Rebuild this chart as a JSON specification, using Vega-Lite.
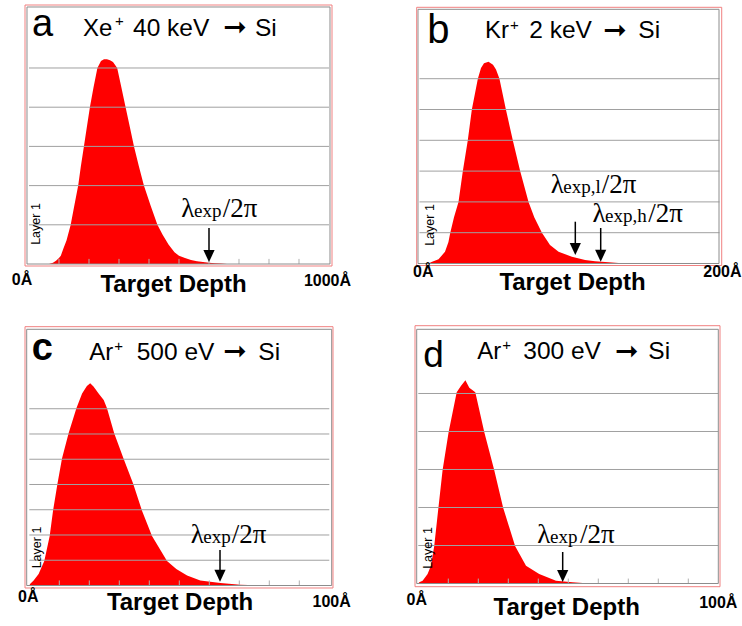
{
  "$schema": "https://vega.github.io/schema/vega-lite/v6.json",
  "autosize": {"type": "none"},
  "padding": {"left": 25, "top": 5, "right": 717, "bottom": 621},
  "background": "white",
  "config": {
    "view": {"stroke": null},
    "axis": {"disable": true},
    "text": {"font": "Liberation Sans", "color": "#000000", "baseline": "alphabetic", "align": "left"}
  },
  "columns": 2,
  "spacing": {"row": 60, "column": 84},
  "bounds": "flush",
  "datasets": {
    "hist_a": [
      {"depth": 67, "count": 0}, {"depth": 80, "count": 0.03}, {"depth": 90, "count": 0.08}, {"depth": 100, "count": 0.15},
      {"depth": 106, "count": 0.21}, {"depth": 115, "count": 0.4}, {"depth": 125, "count": 0.6}, {"depth": 139, "count": 1.0},
      {"depth": 150, "count": 1.45}, {"depth": 164, "count": 2.0}, {"depth": 173, "count": 2.5}, {"depth": 183, "count": 3.0},
      {"depth": 193, "count": 3.5}, {"depth": 203, "count": 4.0}, {"depth": 215, "count": 4.5}, {"depth": 228, "count": 5.0},
      {"depth": 240, "count": 5.18}, {"depth": 250, "count": 5.22}, {"depth": 260, "count": 5.22}, {"depth": 270, "count": 5.2},
      {"depth": 280, "count": 5.15}, {"depth": 294, "count": 5.0}, {"depth": 308, "count": 4.5}, {"depth": 322, "count": 4.0},
      {"depth": 336, "count": 3.5}, {"depth": 350, "count": 3.0}, {"depth": 366, "count": 2.5}, {"depth": 383, "count": 2.0},
      {"depth": 405, "count": 1.5}, {"depth": 428, "count": 1.0}, {"depth": 445, "count": 0.75}, {"depth": 465, "count": 0.5},
      {"depth": 485, "count": 0.3}, {"depth": 500, "count": 0.21}, {"depth": 520, "count": 0.15}, {"depth": 540, "count": 0.1},
      {"depth": 560, "count": 0.07}, {"depth": 580, "count": 0.05}, {"depth": 600, "count": 0.03}, {"depth": 620, "count": 0.02},
      {"depth": 640, "count": 0.01}, {"depth": 660, "count": 0}
    ],
    "hist_b": [
      {"depth": 6, "count": 0}, {"depth": 8, "count": 0.05}, {"depth": 12.7, "count": 0.14}, {"depth": 17, "count": 0.38},
      {"depth": 19.3, "count": 0.7}, {"depth": 20.4, "count": 0.97}, {"depth": 23, "count": 1.5}, {"depth": 26, "count": 2.0},
      {"depth": 28.9, "count": 3.0}, {"depth": 32.2, "count": 4.0}, {"depth": 34.9, "count": 5.0}, {"depth": 38.9, "count": 6.0},
      {"depth": 41, "count": 6.35}, {"depth": 43, "count": 6.5}, {"depth": 46, "count": 6.55}, {"depth": 49, "count": 6.45},
      {"depth": 51, "count": 6.3}, {"depth": 53.3, "count": 6.0}, {"depth": 57.6, "count": 5.0}, {"depth": 62.2, "count": 4.0},
      {"depth": 67.1, "count": 3.0}, {"depth": 72.7, "count": 2.0}, {"depth": 76.5, "count": 1.5}, {"depth": 81.6, "count": 1.0},
      {"depth": 87, "count": 0.6}, {"depth": 92.7, "count": 0.38}, {"depth": 101.6, "count": 0.22}, {"depth": 110.4, "count": 0.11},
      {"depth": 117, "count": 0.07}, {"depth": 123.8, "count": 0.05}, {"depth": 132.7, "count": 0.02}, {"depth": 144, "count": 0.01},
      {"depth": 150, "count": 0}
    ],
    "hist_c": [
      {"depth": 0, "count": 0}, {"depth": 0.33, "count": 0.07}, {"depth": 1.44, "count": 0.2}, {"depth": 3.1, "count": 0.46},
      {"depth": 5.0, "count": 0.97}, {"depth": 6.8, "count": 1.96}, {"depth": 7.9, "count": 2.95}, {"depth": 9.4, "count": 4.04},
      {"depth": 10.9, "count": 5.03}, {"depth": 13.1, "count": 6.03}, {"depth": 15.7, "count": 7.02}, {"depth": 17.6, "count": 7.6},
      {"depth": 19.2, "count": 7.9}, {"depth": 20.3, "count": 8.01}, {"depth": 21.4, "count": 7.88}, {"depth": 23.1, "count": 7.6},
      {"depth": 24.8, "count": 7.35}, {"depth": 25.9, "count": 7.02}, {"depth": 28.3, "count": 6.03}, {"depth": 31.4, "count": 5.03},
      {"depth": 34.6, "count": 4.04}, {"depth": 37.6, "count": 2.95}, {"depth": 40.9, "count": 1.96}, {"depth": 45.9, "count": 0.97},
      {"depth": 49, "count": 0.65}, {"depth": 52.6, "count": 0.4}, {"depth": 57, "count": 0.2}, {"depth": 63.7, "count": 0.1},
      {"depth": 70.3, "count": 0.03}, {"depth": 77, "count": 0.01}, {"depth": 85, "count": 0}
    ],
    "hist_d": [
      {"depth": 0, "count": 0}, {"depth": 0.33, "count": 0.03}, {"depth": 1.44, "count": 0.07}, {"depth": 3.1, "count": 0.25},
      {"depth": 4.2, "count": 0.47}, {"depth": 5.3, "count": 0.98}, {"depth": 6.7, "count": 1.99}, {"depth": 8.1, "count": 2.99},
      {"depth": 10.1, "count": 3.98}, {"depth": 12.8, "count": 5.03}, {"depth": 14.2, "count": 5.2}, {"depth": 15.7, "count": 5.35},
      {"depth": 17, "count": 5.15}, {"depth": 19, "count": 5.03}, {"depth": 22, "count": 3.98}, {"depth": 25.3, "count": 2.99},
      {"depth": 28.3, "count": 1.99}, {"depth": 32.3, "count": 0.98}, {"depth": 35.9, "count": 0.47}, {"depth": 40.3, "count": 0.25},
      {"depth": 45.9, "count": 0.07}, {"depth": 51.4, "count": 0.03}, {"depth": 57, "count": 0}
    ]
  },
  "concat": [
    {
      "width": 307, "height": 261,
      "data": {"values": [{}]},
      "layer": [
        {"data": {"name": "hist_a"}, "mark": {"type": "area", "color": "#ff0000", "interpolate": "linear"},
         "encoding": {"x": {"field": "depth", "type": "quantitative", "scale": {"domain": [-13.33, 1010], "nice": false, "zero": false}},
                      "y": {"field": "count", "type": "quantitative", "stack": null, "scale": {"domain": [-0.051, 6.607], "nice": false, "zero": false}}}},
        {"data": {"values": [{"g": 1}, {"g": 2}, {"g": 3}, {"g": 4}, {"g": 5}]}, "mark": {"type": "rule", "color": "#a0a0a0", "strokeWidth": 1},
         "encoding": {"x": {"datum": 0}, "x2": {"datum": 1000}, "y": {"field": "g", "type": "quantitative"}}},
        {"data": {"values": [{"t": 100}, {"t": 200}, {"t": 300}, {"t": 400}, {"t": 500}, {"t": 600}, {"t": 700}, {"t": 800}, {"t": 900}]}, "mark": {"type": "rule", "color": "#b0b0b0", "strokeWidth": 1},
         "encoding": {"x": {"field": "t", "type": "quantitative"}, "y": {"datum": 0}, "y2": {"datum": 0.13}}},
        {"mark": {"type": "rect", "filled": false, "stroke": "#8c8c8c", "strokeWidth": 1},
         "encoding": {"x": {"datum": -6.67}, "x2": {"datum": 1003.3}, "y": {"datum": 0}, "y2": {"datum": 6.556}}},
        {"mark": {"type": "rect", "filled": false, "stroke": "#f08080", "strokeWidth": 1},
         "encoding": {"x": {"datum": -13.33}, "x2": {"datum": 1010}, "y": {"datum": -0.051}, "y2": {"datum": 6.607}}},
        {"mark": {"type": "text", "text": "a", "fontSize": 38}, "encoding": {"x": {"datum": 10}, "y": {"datum": 5.816}}},
        {"mark": {"type": "text", "text": "Xe", "fontSize": 24}, "encoding": {"x": {"datum": 180}, "y": {"datum": 5.824}}},
        {"mark": {"type": "text", "text": "+", "fontSize": 15}, "encoding": {"x": {"datum": 286.7}, "y": {"datum": 6.071}}},
        {"mark": {"type": "text", "text": "40 keV", "fontSize": 24.5}, "encoding": {"x": {"datum": 346.7}, "y": {"datum": 5.824}}},
        {"mark": {"type": "text", "text": "➞", "font": "DejaVu Sans", "fontSize": 28, "align": "center", "baseline": "middle"}, "encoding": {"x": {"datum": 686.7}, "y": {"datum": 6.013}}},
        {"mark": {"type": "text", "text": "Si", "fontSize": 24.5}, "encoding": {"x": {"datum": 753.3}, "y": {"datum": 5.824}}},
        {"mark": {"type": "text", "text": "λ", "font": "Liberation Serif", "fontSize": 27, "align": "right"}, "encoding": {"x": {"datum": 551}, "y": {"datum": 1.199}}},
        {"mark": {"type": "text", "text": "exp", "font": "Liberation Serif", "fontSize": 19}, "encoding": {"x": {"datum": 550}, "y": {"datum": 1.199}}},
        {"mark": {"type": "text", "text": "/2π", "font": "Liberation Serif", "fontSize": 27}, "encoding": {"x": {"datum": 645.7}, "y": {"datum": 1.199}}},
        {"mark": {"type": "rule", "color": "#000000", "strokeWidth": 1.5}, "encoding": {"x": {"datum": 600}, "y": {"datum": 0.918}, "y2": {"datum": 0.25}}},
        {"mark": {"type": "point", "shape": "M-0.8,-1.7L0.8,-1.7L0,0Z", "filled": true, "color": "#000000", "size": 196, "opacity": 1}, "encoding": {"x": {"datum": 600}, "y": {"datum": 0.051}}},
        {"mark": {"type": "text", "text": "Layer  1", "fontSize": 12.5, "angle": 270, "align": "center", "baseline": "middle"}, "encoding": {"x": {"datum": 25}, "y": {"datum": 1.02}}},
        {"mark": {"type": "text", "text": "0Å", "fontSize": 16, "fontWeight": "bold", "align": "center"}, "encoding": {"x": {"datum": -23.3}, "y": {"datum": -0.536}}},
        {"mark": {"type": "text", "text": "1000Å", "fontSize": 16, "fontWeight": "bold", "align": "center"}, "encoding": {"x": {"datum": 995}, "y": {"datum": -0.561}}},
        {"mark": {"type": "text", "text": "Target Depth", "fontSize": 24, "fontWeight": "bold", "align": "center"}, "encoding": {"x": {"datum": 481.7}, "y": {"datum": -0.714}}}
      ]
    },
    {
      "width": 307, "height": 261,
      "data": {"values": [{}]},
      "layer": [
        {"data": {"name": "hist_b"}, "mark": {"type": "area", "color": "#ff0000", "interpolate": "linear"},
         "encoding": {"x": {"field": "depth", "type": "quantitative", "scale": {"domain": [-2.333, 202.333], "nice": false, "zero": false}},
                      "y": {"field": "count", "type": "quantitative", "stack": null, "scale": {"domain": [-0.0812, 8.393], "nice": false, "zero": false}}}},
        {"data": {"values": [{"g": 1}, {"g": 2}, {"g": 3}, {"g": 4}, {"g": 5}, {"g": 6}]}, "mark": {"type": "rule", "color": "#a0a0a0", "strokeWidth": 1},
         "encoding": {"x": {"datum": 0}, "x2": {"datum": 200}, "y": {"field": "g", "type": "quantitative"}}},
        {"mark": {"type": "rect", "filled": false, "stroke": "#8c8c8c", "strokeWidth": 1},
         "encoding": {"x": {"datum": -1}, "x2": {"datum": 199.67}, "y": {"datum": 0}, "y2": {"datum": 8.253}}},
        {"mark": {"type": "rect", "filled": false, "stroke": "#f08080", "strokeWidth": 1},
         "encoding": {"x": {"datum": -1.867}, "x2": {"datum": 201.47}, "y": {"datum": -0.065}, "y2": {"datum": 8.318}}},
        {"mark": {"type": "text", "text": "b", "fontSize": 40}, "encoding": {"x": {"datum": 5.2}, "y": {"datum": 7.149}}},
        {"mark": {"type": "text", "text": "Kr", "fontSize": 24}, "encoding": {"x": {"datum": 43.67}, "y": {"datum": 7.312}}},
        {"mark": {"type": "text", "text": "+", "fontSize": 15}, "encoding": {"x": {"datum": 60.33}, "y": {"datum": 7.597}}},
        {"mark": {"type": "text", "text": "2 keV", "fontSize": 24.5}, "encoding": {"x": {"datum": 73.2}, "y": {"datum": 7.312}}},
        {"mark": {"type": "text", "text": "➞", "font": "DejaVu Sans", "fontSize": 28, "align": "center", "baseline": "middle"}, "encoding": {"x": {"datum": 130.3}, "y": {"datum": 7.555}}},
        {"mark": {"type": "text", "text": "Si", "fontSize": 24.5}, "encoding": {"x": {"datum": 145.9}, "y": {"datum": 7.312}}},
        {"mark": {"type": "text", "text": "λ", "font": "Liberation Serif", "fontSize": 27, "align": "right"}, "encoding": {"x": {"datum": 96.2}, "y": {"datum": 2.279}}},
        {"mark": {"type": "text", "text": "exp,l", "font": "Liberation Serif", "fontSize": 19}, "encoding": {"x": {"datum": 95.87}, "y": {"datum": 2.279}}},
        {"mark": {"type": "text", "text": "/2π", "font": "Liberation Serif", "fontSize": 27}, "encoding": {"x": {"datum": 121.47}, "y": {"datum": 2.279}}},
        {"mark": {"type": "text", "text": "λ", "font": "Liberation Serif", "fontSize": 27, "align": "right"}, "encoding": {"x": {"datum": 124}, "y": {"datum": 1.357}}},
        {"mark": {"type": "text", "text": "exp,h", "font": "Liberation Serif", "fontSize": 19}, "encoding": {"x": {"datum": 123.67}, "y": {"datum": 1.357}}},
        {"mark": {"type": "text", "text": "/2π", "font": "Liberation Serif", "fontSize": 27}, "encoding": {"x": {"datum": 152.53}, "y": {"datum": 1.357}}},
        {"mark": {"type": "rule", "color": "#000000", "strokeWidth": 1.5}, "encoding": {"x": {"datum": 103.87}, "y": {"datum": 1.357}, "y2": {"datum": 0.6}}},
        {"mark": {"type": "point", "shape": "M-0.8,-1.7L0.8,-1.7L0,0Z", "filled": true, "color": "#000000", "size": 196, "opacity": 1}, "encoding": {"x": {"datum": 103.87}, "y": {"datum": 0.276}}},
        {"mark": {"type": "rule", "color": "#000000", "strokeWidth": 1.5}, "encoding": {"x": {"datum": 120.8}, "y": {"datum": 1.153}, "y2": {"datum": 0.4}}},
        {"mark": {"type": "point", "shape": "M-0.8,-1.7L0.8,-1.7L0,0Z", "filled": true, "color": "#000000", "size": 196, "opacity": 1}, "encoding": {"x": {"datum": 120.8}, "y": {"datum": 0.058}}},
        {"mark": {"type": "text", "text": "Layer  1", "fontSize": 12.5, "angle": 270, "align": "center", "baseline": "middle"}, "encoding": {"x": {"datum": 7}, "y": {"datum": 1.25}}},
        {"mark": {"type": "text", "text": "0Å", "fontSize": 16, "fontWeight": "bold", "align": "center"}, "encoding": {"x": {"datum": 2.53}, "y": {"datum": -0.438}}},
        {"mark": {"type": "text", "text": "200Å", "fontSize": 16, "fontWeight": "bold", "align": "left"}, "encoding": {"x": {"datum": 189.2}, "y": {"datum": -0.438}}},
        {"mark": {"type": "text", "text": "Target Depth", "fontSize": 24, "fontWeight": "bold", "align": "center"}, "encoding": {"x": {"datum": 102}, "y": {"datum": -0.86}}}
      ]
    },
    {
      "width": 307, "height": 261,
      "data": {"values": [{}]},
      "layer": [
        {"data": {"name": "hist_c"}, "mark": {"type": "area", "color": "#ff0000", "interpolate": "linear"},
         "encoding": {"x": {"field": "depth", "type": "quantitative", "scale": {"domain": [-1.433, 100.9], "nice": false, "zero": false}},
                      "y": {"field": "count", "type": "quantitative", "stack": null, "scale": {"domain": [-0.0594, 10.277], "nice": false, "zero": false}}}},
        {"data": {"values": [{"g": 1}, {"g": 2}, {"g": 3}, {"g": 4}, {"g": 5}, {"g": 6}, {"g": 7}]}, "mark": {"type": "rule", "color": "#a0a0a0", "strokeWidth": 1},
         "encoding": {"x": {"datum": 0}, "x2": {"datum": 100}, "y": {"field": "g", "type": "quantitative"}}},
        {"data": {"values": [{"t": 10}, {"t": 20}, {"t": 30}, {"t": 40}, {"t": 50}, {"t": 60}, {"t": 70}, {"t": 80}, {"t": 90}]}, "mark": {"type": "rule", "color": "#b0b0b0", "strokeWidth": 1},
         "encoding": {"x": {"field": "t", "type": "quantitative"}, "y": {"datum": 0}, "y2": {"datum": 0.2}}},
        {"mark": {"type": "rect", "filled": false, "stroke": "#8c8c8c", "strokeWidth": 1},
         "encoding": {"x": {"datum": -0.867}, "x2": {"datum": 100.8}, "y": {"datum": 0}, "y2": {"datum": 10.147}}},
        {"mark": {"type": "rect", "filled": false, "stroke": "#f08080", "strokeWidth": 1},
         "encoding": {"x": {"datum": -1.433}, "x2": {"datum": 101.23}, "y": {"datum": -0.099}, "y2": {"datum": 10.25}}},
        {"mark": {"type": "text", "text": "c", "fontSize": 38, "fontWeight": "bold"}, "encoding": {"x": {"datum": 0.8}, "y": {"datum": 8.93}}},
        {"mark": {"type": "text", "text": "Ar", "fontSize": 24}, "encoding": {"x": {"datum": 20}, "y": {"datum": 8.93}}},
        {"mark": {"type": "text", "text": "+", "fontSize": 15}, "encoding": {"x": {"datum": 28.3}, "y": {"datum": 9.287}}},
        {"mark": {"type": "text", "text": "500 eV", "fontSize": 24.5}, "encoding": {"x": {"datum": 35.8}, "y": {"datum": 8.93}}},
        {"mark": {"type": "text", "text": "➞", "font": "DejaVu Sans", "fontSize": 28, "align": "center", "baseline": "middle"}, "encoding": {"x": {"datum": 68.57}, "y": {"datum": 9.228}}},
        {"mark": {"type": "text", "text": "Si", "fontSize": 24.5}, "encoding": {"x": {"datum": 76.33}, "y": {"datum": 8.93}}},
        {"mark": {"type": "text", "text": "λ", "font": "Liberation Serif", "fontSize": 27, "align": "right"}, "encoding": {"x": {"datum": 58.15}, "y": {"datum": 1.695}}},
        {"mark": {"type": "text", "text": "exp", "font": "Liberation Serif", "fontSize": 19}, "encoding": {"x": {"datum": 58}, "y": {"datum": 1.695}}},
        {"mark": {"type": "text", "text": "/2π", "font": "Liberation Serif", "fontSize": 27}, "encoding": {"x": {"datum": 67.47}, "y": {"datum": 1.695}}},
        {"mark": {"type": "rule", "color": "#000000", "strokeWidth": 1.5}, "encoding": {"x": {"datum": 63.57}, "y": {"datum": 1.406}, "y2": {"datum": 0.6}}},
        {"mark": {"type": "point", "shape": "M-0.8,-1.7L0.8,-1.7L0,0Z", "filled": true, "color": "#000000", "size": 196, "opacity": 1}, "encoding": {"x": {"datum": 63.57}, "y": {"datum": 0.15}}},
        {"mark": {"type": "text", "text": "Layer  1", "fontSize": 12.5, "angle": 270, "align": "center", "baseline": "middle"}, "encoding": {"x": {"datum": 2.73}, "y": {"datum": 1.505}}},
        {"mark": {"type": "text", "text": "0Å", "fontSize": 16, "fontWeight": "bold", "align": "center"}, "encoding": {"x": {"datum": -0.33}, "y": {"datum": -0.642}}},
        {"mark": {"type": "text", "text": "100Å", "fontSize": 16, "fontWeight": "bold", "align": "center"}, "encoding": {"x": {"datum": 100.8}, "y": {"datum": -0.84}}},
        {"mark": {"type": "text", "text": "Target Depth", "fontSize": 24, "fontWeight": "bold", "align": "center"}, "encoding": {"x": {"datum": 50.23}, "y": {"datum": -0.97}}}
      ]
    },
    {
      "width": 307, "height": 261,
      "data": {"values": [{}]},
      "layer": [
        {"data": {"name": "hist_d"}, "mark": {"type": "area", "color": "#ff0000", "interpolate": "linear"},
         "encoding": {"x": {"field": "depth", "type": "quantitative", "scale": {"domain": [-0.767, 101.567], "nice": false, "zero": false}},
                      "y": {"field": "count", "type": "quantitative", "stack": null, "scale": {"domain": [-0.092, 6.776], "nice": false, "zero": false}}}},
        {"data": {"values": [{"g": 1}, {"g": 2}, {"g": 3}, {"g": 4}, {"g": 5}]}, "mark": {"type": "rule", "color": "#a0a0a0", "strokeWidth": 1},
         "encoding": {"x": {"datum": 0}, "x2": {"datum": 100}, "y": {"field": "g", "type": "quantitative"}}},
        {"data": {"values": [{"t": 10}, {"t": 20}, {"t": 30}, {"t": 40}, {"t": 50}, {"t": 60}, {"t": 70}, {"t": 80}, {"t": 90}]}, "mark": {"type": "rule", "color": "#b0b0b0", "strokeWidth": 1},
         "encoding": {"x": {"field": "t", "type": "quantitative"}, "y": {"datum": 0}, "y2": {"datum": 0.13}}},
        {"mark": {"type": "rect", "filled": false, "stroke": "#8c8c8c", "strokeWidth": 1},
         "encoding": {"x": {"datum": -0.533}, "x2": {"datum": 100}, "y": {"datum": 0}, "y2": {"datum": 6.689}}},
        {"mark": {"type": "rect", "filled": false, "stroke": "#f08080", "strokeWidth": 1},
         "encoding": {"x": {"datum": -1.1}, "x2": {"datum": 100.57}, "y": {"datum": -0.084}, "y2": {"datum": 6.784}}},
        {"mark": {"type": "text", "text": "d", "fontSize": 37}, "encoding": {"x": {"datum": 1.667}, "y": {"datum": 5.705}}},
        {"mark": {"type": "text", "text": "Ar", "fontSize": 24}, "encoding": {"x": {"datum": 19.67}, "y": {"datum": 5.9}}},
        {"mark": {"type": "text", "text": "+", "fontSize": 15}, "encoding": {"x": {"datum": 28}, "y": {"datum": 6.145}}},
        {"mark": {"type": "text", "text": "300 eV", "fontSize": 24.5}, "encoding": {"x": {"datum": 35}, "y": {"datum": 5.9}}},
        {"mark": {"type": "text", "text": "➞", "font": "DejaVu Sans", "fontSize": 28, "align": "center", "baseline": "middle"}, "encoding": {"x": {"datum": 69.47}, "y": {"datum": 6.092}}},
        {"mark": {"type": "text", "text": "Si", "fontSize": 24.5}, "encoding": {"x": {"datum": 76.67}, "y": {"datum": 5.9}}},
        {"mark": {"type": "text", "text": "λ", "font": "Liberation Serif", "fontSize": 27, "align": "right"}, "encoding": {"x": {"datum": 44.05}, "y": {"datum": 1.074}}},
        {"mark": {"type": "text", "text": "exp", "font": "Liberation Serif", "fontSize": 19}, "encoding": {"x": {"datum": 43.9}, "y": {"datum": 1.074}}},
        {"mark": {"type": "text", "text": "/2π", "font": "Liberation Serif", "fontSize": 27}, "encoding": {"x": {"datum": 53.9}, "y": {"datum": 1.074}}},
        {"mark": {"type": "rule", "color": "#000000", "strokeWidth": 1.5}, "encoding": {"x": {"datum": 48.13}, "y": {"datum": 0.829}, "y2": {"datum": 0.3}}},
        {"mark": {"type": "point", "shape": "M-0.8,-1.7L0.8,-1.7L0,0Z", "filled": true, "color": "#000000", "size": 196, "opacity": 1}, "encoding": {"x": {"datum": 48.13}, "y": {"datum": 0.039}}},
        {"mark": {"type": "text", "text": "Layer  1", "fontSize": 12.5, "angle": 270, "align": "center", "baseline": "middle"}, "encoding": {"x": {"datum": 3.13}, "y": {"datum": 0.934}}},
        {"mark": {"type": "text", "text": "0Å", "fontSize": 16, "fontWeight": "bold", "align": "center"}, "encoding": {"x": {"datum": -0.53}, "y": {"datum": -0.566}}},
        {"mark": {"type": "text", "text": "100Å", "fontSize": 16, "fontWeight": "bold", "align": "center"}, "encoding": {"x": {"datum": 100}, "y": {"datum": -0.653}}},
        {"mark": {"type": "text", "text": "Target Depth", "fontSize": 24, "fontWeight": "bold", "align": "center"}, "encoding": {"x": {"datum": 49.47}, "y": {"datum": -0.829}}}
      ]
    }
  ]
}
